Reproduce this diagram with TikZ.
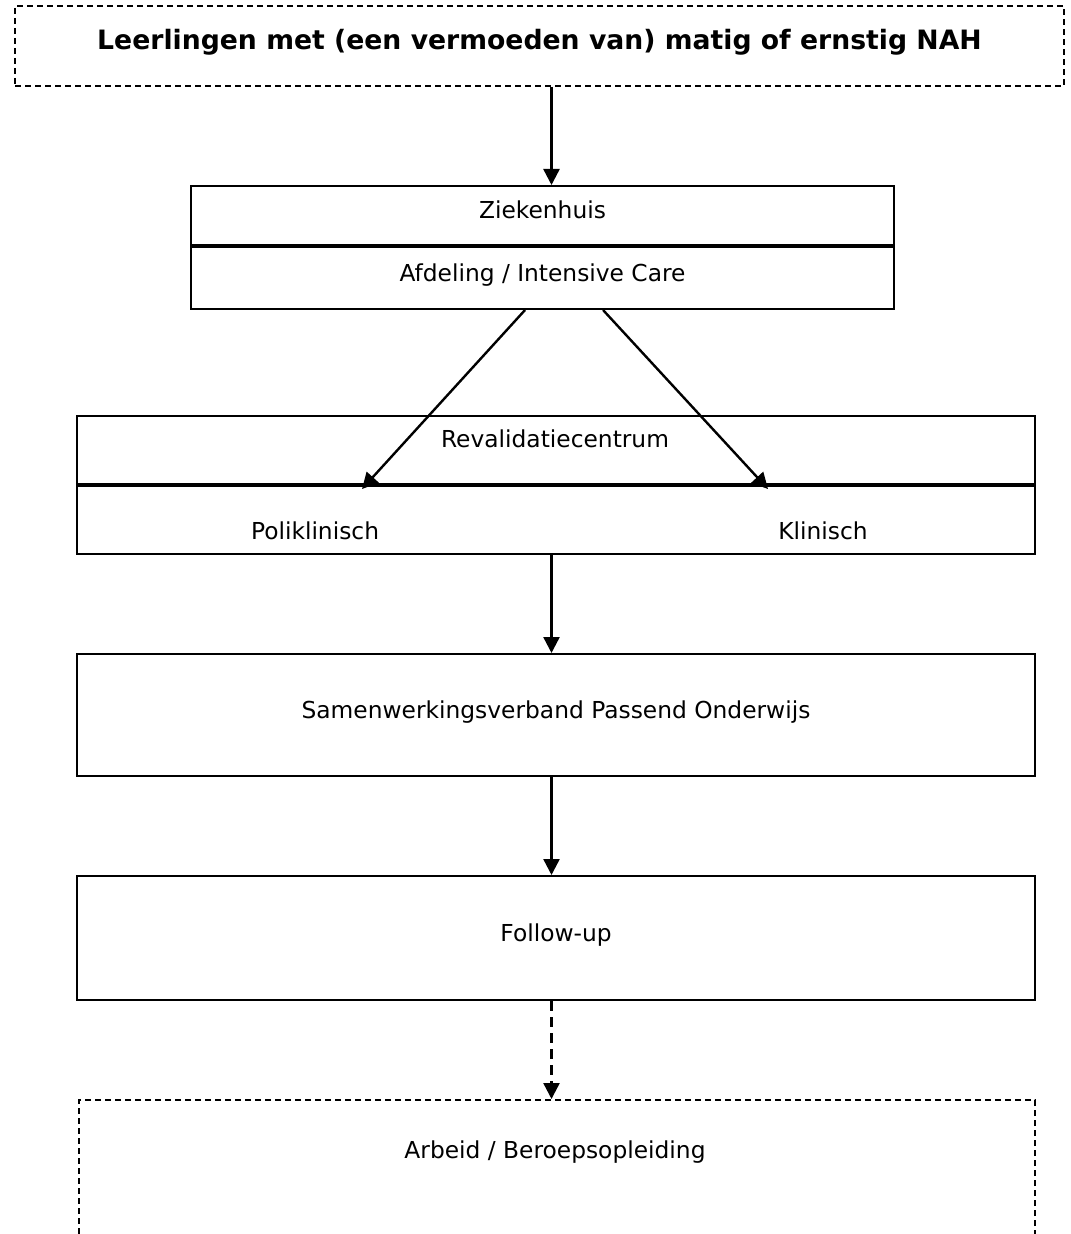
\documentclass[tikz,border=0pt]{standalone}
\usepackage{fontspec}
\setmainfont{DejaVu Sans}
\usetikzlibrary{arrows.meta,positioning}

\begin{document}
\begin{tikzpicture}[
    x=0.75pt, y=-0.75pt,
    node distance=73.5pt,
    every node/.style={font=\fontsize{17.5}{21}\selectfont, inner sep=0pt, text height=0.73em, text depth=0.24em},
    box/.style={draw, line width=1.5pt, minimum width=718.5pt},
    dashbox/.style={box, dash pattern=on 4.5pt off 3pt},
    title/.style={font=\fontsize{20}{24}\selectfont\bfseries},
    flow/.style={-{Triangle[length=12pt, width=12pt]}, line width=1.8pt},
    feedback/.style={flow, dash pattern=on 7.5pt off 4.5pt}
]
\useasboundingbox (0,0) rectangle (1070,1234);
\clip (0,0) rectangle (1070,1234);
\coordinate (spine) at (551.5,0);

% top of the chain
\node[dashbox, title, minimum width=786.75pt, minimum height=60pt, anchor=north west] (leerlingen) at (14,5) {Leerlingen met (een vermoeden van) matig of ernstig NAH};
\node[box, minimum width=527.25pt, minimum height=44.25pt, anchor=north west] (zkhtop) at (190,185) {Ziekenhuis};
\node[box, minimum width=527.25pt, minimum height=46.5pt, below=0pt of zkhtop] (zkhbot) {Afdeling / Intensive Care};

% revalidatie, split in two
\node[box, minimum height=51pt, anchor=north west] (revtop) at (76,415) {};
\node[box, minimum height=51pt, below=0pt of revtop] (revbot) {};
\node (revtext) at (555,444) {Revalidatiecentrum};
\node (poli) at (315,536) {Poliklinisch};
\node (klin) at (823,536) {Klinisch};
\coordinate (poliin) at (362,489);
\coordinate (klinin) at (768,489);

\node[box, minimum height=91.5pt, below=of revbot] (sam) {Samenwerkingsverband Passend Onderwijs};
\node[box, minimum height=93pt, below=of sam] (fol) {Follow-up};
\node[dashbox, minimum width=717pt, minimum height=120pt, below=of fol, xshift=0.75pt] (arbeid) {};
\node (arbtext) at (555,1155) {Arbeid / Beroepsopleiding};

\draw[flow] (leerlingen.south -| spine) -- (zkhtop.north -| spine);
\draw[flow] ([xshift=-13.1pt]zkhbot.south) -- (poliin);
\draw[flow] ([xshift=45.4pt]zkhbot.south) -- (klinin);
\draw[flow] (revbot.south -| spine) -- (sam.north -| spine);
\draw[flow] (sam.south -| spine) -- (fol.north -| spine);
\draw[feedback] (fol.south -| spine) -- (arbeid.north -| spine);
\end{tikzpicture}
\end{document}
